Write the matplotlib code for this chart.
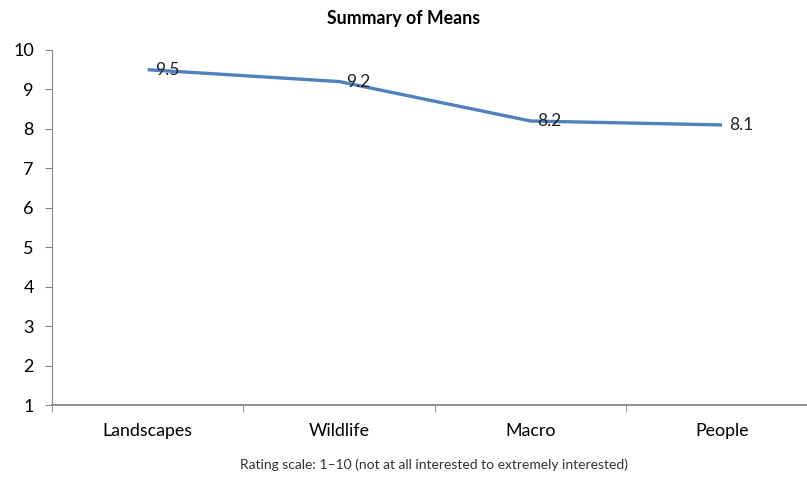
import matplotlib
matplotlib.use('Agg')
import matplotlib.pyplot as plt

# Data
categories = ['Landscapes', 'Wildlife', 'Macro', 'People']
means = [9.5, 9.2, 8.2, 8.1]
y_ticks = [1, 2, 3, 4, 5, 6, 7, 8, 9, 10]

plt.rcParams['font.family'] = ['Lato', 'DejaVu Sans']

fig = plt.figure(figsize=(8.07, 4.78), dpi=100)
ax = fig.add_axes([0.0644, 0.1527, 0.949, 0.7427])

x = list(range(len(categories)))
ax.plot(x, means, color='#4f81bd', linewidth=2.4, solid_capstyle='butt')

for xi, v in zip(x, means):
    ax.annotate(f'{v}', xy=(xi, v), xytext=(5, 0), textcoords='offset points',
                ha='left', va='center', fontsize=12.5, color='#222222')

ax.set_xlim(-0.5, len(categories) - 0.5)
ax.set_ylim(1, 10)
ax.set_yticks(y_ticks)
ax.tick_params(axis='y', labelsize=13, length=5, color='#868686', pad=8)

# category labels centred, ticks at category boundaries
ax.set_xticks(x)
ax.set_xticklabels(categories, fontsize=12.8)
ax.tick_params(axis='x', which='major', length=0, pad=13)
ax.set_xticks([i - 0.5 for i in x], minor=True)
ax.tick_params(axis='x', which='minor', length=5, color='#868686')

for side in ['top', 'right']:
    ax.spines[side].set_visible(False)
ax.spines['left'].set_color('#868686')
ax.spines['bottom'].set_color('#868686')
ax.spines['bottom'].set_linewidth(1.3)

fig.text(0.5, 0.962, 'Summary of Means', ha='center', va='center',
         fontsize=12.8, fontweight='bold')
fig.text(0.538, 0.028, 'Rating scale: 1\u201310 (not at all interested to extremely interested)',
         ha='center', va='center', fontsize=10, color='#333333')

fig.savefig('out.png', dpi=100)
